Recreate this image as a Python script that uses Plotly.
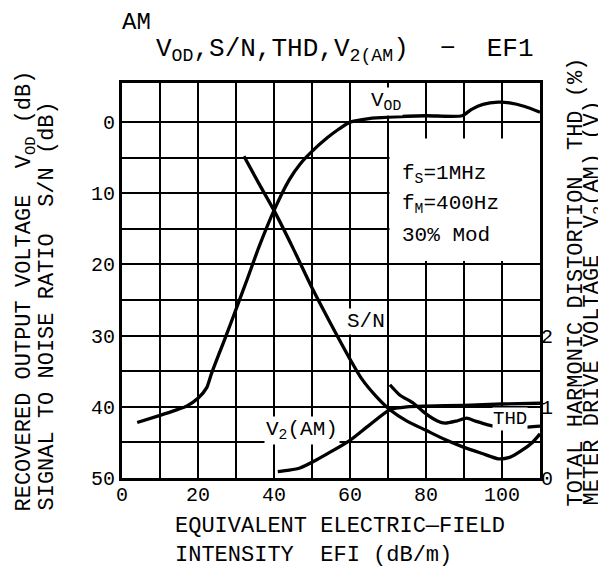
import plotly.graph_objects as go

# ---- data ----
x_ticks = [0, 20, 40, 60, 80, 100]
x_ticktext = ["0", "20", "40", "60", "80", "100"]
x_minor = [10, 30, 50, 70, 90, 110]
y_ticks = [0, 10, 20, 30, 40, 50]
y_ticktext = ["0", "10", "20", "30", "40", "50"]
y_minor = [5, 15, 25, 35, 45]
y2_ticks = [0, 1, 2]
y2_ticktext = ["0", "1", "2"]

vod_x = [4, 10, 14, 17, 20, 22.3, 23.5, 25.5, 27.4, 30, 33, 36, 40, 44, 47, 50, 54, 57, 60, 65, 70, 80, 89.5, 92, 95, 99, 102, 106, 110]
vod_y = [42.2, 41.2, 40.5, 39.9, 38.8, 37.3, 35.4, 32.6, 30.0, 26.3, 22.0, 17.6, 12.4, 8.1, 5.8, 4.1, 2.2, 1.0, 0.0, -0.5, -0.7, -0.9, -0.9, -1.8, -2.5, -2.8, -2.7, -2.2, -1.4]

sn_x = [32.1, 36, 40, 45, 50.3, 55, 60, 63, 67, 70.5, 75, 80, 85, 90, 95, 99, 102, 105, 108, 110]
sn_y = [4.8, 8.6, 12.4, 17.7, 23.6, 28.4, 33.3, 36.0, 38.6, 40.4, 42.0, 43.3, 44.6, 45.7, 46.6, 47.3, 47.1, 46.2, 45.0, 43.8]

thd_x = [70.5, 73, 76.7, 80, 83, 85, 88, 90.7, 93, 96, 100, 105, 110]
thd_r = [1.31, 1.17, 1.05, 0.90, 0.80, 0.77, 0.80, 0.84, 0.80, 0.75, 0.71, 0.71, 0.73]

v2_x = [41, 44, 46.8, 51, 55, 60, 65, 70.5, 75, 80, 90, 100, 110]
v2_r = [0.09, 0.11, 0.14, 0.25, 0.37, 0.53, 0.74, 0.96, 1.0, 1.01, 1.02, 1.04, 1.05]

FONT = "Liberation Mono"
LW = 3.3

fig = go.Figure()
line = dict(color="black", width=LW, shape="spline", smoothing=0.6)
fig.add_trace(go.Scatter(x=vod_x, y=vod_y, mode="lines", line=line, yaxis="y", name="VOD"))
fig.add_trace(go.Scatter(x=sn_x, y=sn_y, mode="lines", line=line, yaxis="y", name="S/N"))
fig.add_trace(go.Scatter(x=thd_x, y=thd_r, mode="lines", line=line, yaxis="y2", name="THD"))
fig.add_trace(go.Scatter(x=v2_x, y=v2_r, mode="lines", line=line, yaxis="y2", name="V2(AM)"))

# white box behind the condition text
fig.add_shape(type="rect", xref="x", yref="y", x0=70.4, x1=110, y0=2.3, y1=19.5,
              fillcolor="white", line=dict(width=0), layer="between")

tf = dict(family=FONT, size=22, color="black")
cf = dict(family=FONT, size=21, color="black")
ann = []
# curve labels
ann.append(dict(x=69.5, y=-2.9, xref="x", yref="y", text="V<sub>OD</sub>", showarrow=False,
                font=cf, bgcolor="white", borderpad=1, yanchor="middle"))
ann.append(dict(x=64.2, y=28.0, xref="x", yref="y", text="S/N", showarrow=False,
                font=cf, bgcolor="white", borderpad=1, yanchor="middle"))
ann.append(dict(x=47.3, y=43.3, xref="x", yref="y", text="V<sub>2</sub>(AM)", showarrow=False,
                font=cf, bgcolor="white", borderpad=1, yanchor="middle"))
ann.append(dict(x=102, y=41.7, xref="x", yref="y", text="THD", showarrow=False,
                font=dict(family=FONT, size=19, color="black"), bgcolor="white", borderpad=0,
                yanchor="middle"))
# conditions
for txt, yy in [("f<sub>S</sub>=1MHz", 7.4), ("f<sub>M</sub>=400Hz", 11.6), ("30% Mod", 15.9)]:
    ann.append(dict(x=73.2, y=yy, xref="x", yref="y", text=txt, showarrow=False,
                    xanchor="left", yanchor="middle", font=cf))
# titles
ann.append(dict(x=-0.005, y=1.154, xref="paper", yref="paper", text="AM", showarrow=False,
                xanchor="left", yanchor="middle", font=dict(family=FONT, size=24, color="black")))
ann.append(dict(x=0.0766, y=1.0835, xref="paper", yref="paper",
                text="V<sub>OD</sub>,S/N,THD,V<sub>2(AM</sub>)  \u2212  EF1", showarrow=False,
                xanchor="left", yanchor="middle", font=dict(family=FONT, size=26, color="black")))
# x axis title
ann.append(dict(x=0.122, y=-0.124, xref="paper", yref="paper", text="EQUIVALENT ELECTRIC\u2014FIELD",
                showarrow=False, xanchor="left", yanchor="middle", font=tf))
ann.append(dict(x=0.122, y=-0.195, xref="paper", yref="paper", text="INTENSITY  EFI (dB/m)",
                showarrow=False, xanchor="left", yanchor="middle", font=tf))
# left axis titles
ann.append(dict(x=-0.2273, y=-0.0886, xref="paper", yref="paper", textangle=-90,
                text="RECOVERED OUTPUT VOLTAGE  V<sub>OD</sub> (dB)", showarrow=False,
                xanchor="center", yanchor="bottom", font=tf))
ann.append(dict(x=-0.1794, y=-0.0886, xref="paper", yref="paper", textangle=-90,
                text="SIGNAL TO NOISE RATIO  S/N (dB)", showarrow=False,
                xanchor="center", yanchor="bottom", font=tf))
# right axis titles
ann.append(dict(x=1.0885, y=-0.076, xref="paper", yref="paper", textangle=-90,
                text="TOTAL HARMONIC DISTORTION  THD (%)", showarrow=False,
                xanchor="center", yanchor="bottom", font=tf))
ann.append(dict(x=1.1292, y=-0.076, xref="paper", yref="paper", textangle=-90,
                text="METER DRIVE VOLTAGE  V<sub>2</sub>(AM) (V)", showarrow=False,
                xanchor="center", yanchor="bottom", font=tf))

grid = dict(showgrid=True, gridcolor="black", gridwidth=1.7)
fig.update_layout(
    width=598, height=559,
    margin=dict(l=114, r=66, t=75, b=89),
    paper_bgcolor="white", plot_bgcolor="white",
    showlegend=False,
    font=dict(family=FONT, size=20, color="black"),
    annotations=ann,
    xaxis=dict(range=[0, 110], tickmode="array", tickvals=x_ticks, ticktext=x_ticktext,
               minor=dict(tickmode="array", tickvals=x_minor, **grid), **grid,
               zeroline=False, showline=True, linecolor="black", linewidth=3, mirror=True,
               ticks="", ticklabelstandoff=-4,
               tickfont=dict(family=FONT, size=20, color="black")),
    yaxis=dict(range=[50, -5.5], tickmode="array", tickvals=y_ticks, ticktext=y_ticktext,
               minor=dict(tickmode="array", tickvals=y_minor, **grid), **grid,
               zeroline=False, showline=True, linecolor="black", linewidth=3, mirror=True,
               ticks="", tickfont=dict(family=FONT, size=20, color="black")),
    yaxis2=dict(range=[0, 5.55], overlaying="y", side="right", tickmode="array",
                tickvals=y2_ticks, ticktext=y2_ticktext, showgrid=False, zeroline=False,
                showline=False, ticks="", tickfont=dict(family=FONT, size=20, color="black")),
)

fig.write_html("out.html")
